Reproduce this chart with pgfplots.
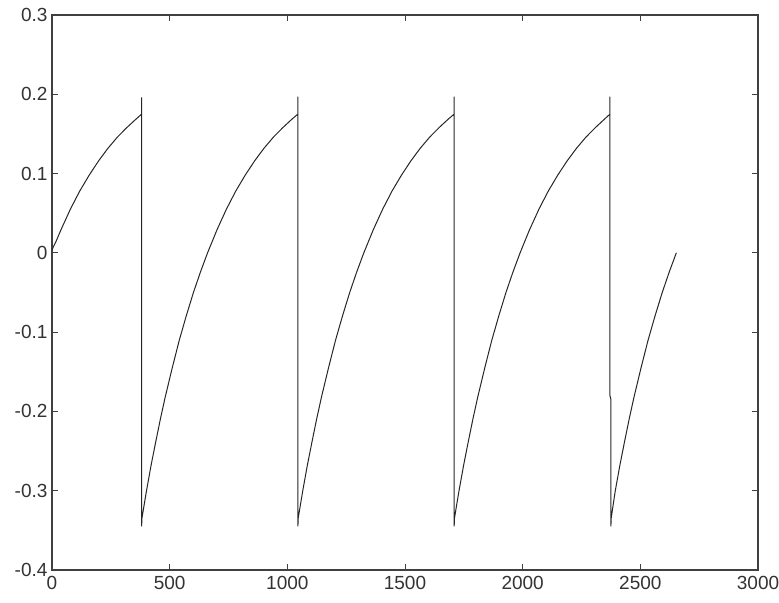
\documentclass[border=0pt]{standalone}
\usepackage{fontspec}
\setmainfont{Liberation Sans}
\usepackage{pgfplots}
\pgfplotsset{compat=1.18}
\begin{document}
\begin{tikzpicture}
\begin{axis}[
  width=706pt, height=555pt, scale only axis,
  xmin=0, xmax=3000, ymin=-0.4, ymax=0.3,
  xtick={0,500,1000,1500,2000,2500,3000},
  xticklabels={0,500,1000,1500,2000,2500,3000},
  ytick={-0.4,-0.3,-0.2,-0.1,0,0.1,0.2,0.3},
  yticklabels={-0.4,-0.3,-0.2,-0.1,0,0.1,0.2,0.3},
  tick align=inside,
  major tick length=6pt,
  axis line style={black!75, line width=1.1pt},
  every tick/.style={black!75, line width=1pt},
  tick label style={font=\fontsize{19}{22}\selectfont, text=black!80},
  xticklabel style={yshift=-3pt},
  yticklabel style={xshift=-1pt},
]
\addplot[black!85, line width=1pt] coordinates {
(0,0.004) (18,0.015) (38,0.029) (78,0.055) (118,0.078) (158,0.098) (198,0.116)
(238,0.132) (278,0.146) (318,0.158) (358,0.169) (381,0.175)
(381,0.196) (381,-0.345) (382,-0.335)
(401,-0.301) (421,-0.268) (441,-0.238) (461,-0.209) (481,-0.182) (511,-0.145)
(541,-0.110) (571,-0.079) (601,-0.050) (631,-0.024) (661,0.000) (701,0.029)
(741,0.055) (781,0.078) (821,0.098) (861,0.116) (901,0.132) (941,0.146)
(981,0.158) (1021,0.169) (1045,0.175)
(1045,0.197) (1045,-0.345) (1046,-0.335)
(1065,-0.301) (1085,-0.268) (1105,-0.238) (1125,-0.209) (1145,-0.182) (1175,-0.145)
(1205,-0.110) (1235,-0.079) (1265,-0.050) (1295,-0.024) (1325,0.000) (1365,0.029)
(1405,0.055) (1445,0.078) (1485,0.098) (1525,0.116) (1565,0.132) (1605,0.146)
(1645,0.158) (1685,0.169) (1709,0.175)
(1709,0.197) (1709,-0.345) (1710,-0.335)
(1729,-0.301) (1749,-0.268) (1769,-0.238) (1789,-0.209) (1809,-0.182) (1839,-0.145)
(1869,-0.110) (1899,-0.079) (1929,-0.050) (1959,-0.024) (1989,0.000) (2029,0.029)
(2069,0.055) (2109,0.078) (2149,0.098) (2189,0.116) (2229,0.132) (2269,0.146)
(2309,0.158) (2349,0.169) (2371,0.175)
(2371,0.197) (2371,-0.180) (2375,-0.185) (2375,-0.345) (2376,-0.335)
(2393,-0.301) (2413,-0.268) (2433,-0.238) (2453,-0.209) (2473,-0.182) (2503,-0.145)
(2533,-0.110) (2563,-0.079) (2593,-0.050) (2623,-0.024) (2653,0.000)
};
\end{axis}
\pgfresetboundingbox
\path[use as bounding box] ([shift={(-52pt,-33pt)}]current axis.south west) rectangle ([shift={(21pt,15pt)}]current axis.north east);
\end{tikzpicture}
\end{document}
